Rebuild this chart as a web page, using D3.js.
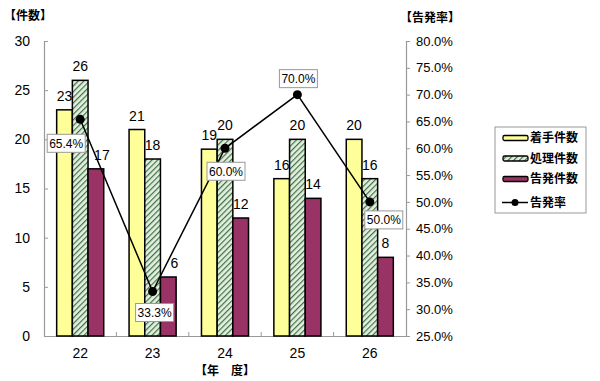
<!DOCTYPE html>
<html>
<head>
<meta charset="utf-8">
<script src="https://cdn.jsdelivr.net/npm/d3@7"></script>
<style>
  body { margin: 0; background: #fff; }
  text { font-family: "Liberation Sans", Arial, sans-serif; }
  .jp { font-family: "Noto Sans CJK JP", sans-serif; font-weight: bold; }
</style>
</head>
<body>
<div id="chart"></div>
<script>
// data
var years = ["22", "23", "24", "25", "26"];
var seriesNames = ["着手件数", "処理件数", "告発件数"];
var started = [23, 21, 19, 16, 20];
var processed = [26, 18, 20, 20, 16];
var filed = [17, 6, 12, 14, 8];
var rate = [0.654, 0.333, 0.60, 0.70, 0.50];
var rateName = "告発率";
var leftTicks = [0, 5, 10, 15, 20, 25, 30];
var rightTicks = [0.25, 0.30, 0.35, 0.40, 0.45, 0.50, 0.55, 0.60, 0.65, 0.70, 0.75, 0.80];

// where each rate label box sits relative to its point
var rateLabelOffset = [[-14, 24], [2, 21], [1, 23], [1, -16], [14, 18]];

var width = 600;
var height = 381;
var plotL = 44, plotR = 406, plotT = 41, plotB = 336;

var svg = d3.select("#chart")
    .append("svg")
    .attr("width", width)
    .attr("height", height);

var defs = svg.append("defs");
var pat = defs.append("pattern")
    .attr("id", "hatch")
    .attr("patternUnits", "userSpaceOnUse")
    .attr("width", 4)
    .attr("height", 4)
    .attr("patternTransform", "rotate(45)");
pat.append("rect").attr("width", 4).attr("height", 4).attr("fill", "#e3efdf");
pat.append("line")
    .attr("x1", 0).attr("y1", 0).attr("x2", 0).attr("y2", 4)
    .attr("stroke", "#3f7145").attr("stroke-width", 2.4);

var fills = ["#ffff99", "url(#hatch)", "#993366"];
var values = [started, processed, filed];

var x = d3.scaleBand().domain(years).range([plotL, plotR])
    .paddingInner(0.35).paddingOuter(0.175);
var xs = d3.scaleBand().domain(seriesNames).range([0, x.bandwidth()]);
var y = d3.scaleLinear().domain([0, 30]).range([plotB, plotT]);
var yr = d3.scaleLinear().domain([0.25, 0.8]).range([plotB, plotT]);

// axes
var leftAxis = svg.append("g")
    .attr("transform", "translate(" + plotL + ",0)")
    .call(d3.axisLeft(y).tickValues(leftTicks).tickSize(-4).tickPadding(14));
var rightAxis = svg.append("g")
    .attr("transform", "translate(" + plotR + ",0)")
    .call(d3.axisRight(yr).tickValues(rightTicks).tickSize(4).tickPadding(6)
        .tickFormat(function (d) { return (d * 100).toFixed(1) + "%"; }));
var bottomAxis = svg.append("g")
    .attr("transform", "translate(0," + plotB + ")")
    .call(d3.axisBottom(x).tickSize(0).tickPadding(12));

[leftAxis, rightAxis, bottomAxis].forEach(function (g) {
    g.select(".domain").attr("stroke", "#999").attr("stroke-width", 1.2);
    g.selectAll(".tick line").attr("stroke", "#999");
    g.selectAll("text")
        .attr("fill", "#000")
        .style("font-family", "'Liberation Sans', Arial, sans-serif")
        .style("font-size", "13px");
});
leftAxis.selectAll("text").style("font-size", "14px");
bottomAxis.selectAll("text").style("font-size", "14px");

// small ticks between categories on the bottom axis
svg.append("g").selectAll("line")
    .data(years.slice(1))
    .enter().append("line")
    .attr("x1", function (d) { return x(d) - x.step() * x.paddingInner() / 2; })
    .attr("x2", function (d) { return x(d) - x.step() * x.paddingInner() / 2; })
    .attr("y1", plotB)
    .attr("y2", plotB - 4)
    .attr("stroke", "#999");

// bars
seriesNames.forEach(function (name, si) {
    var g = svg.append("g");
    g.selectAll("rect")
        .data(years)
        .enter().append("rect")
        .attr("x", function (d) { return x(d) + xs(name); })
        .attr("y", function (d, i) { return y(values[si][i]); })
        .attr("width", xs.bandwidth())
        .attr("height", function (d, i) { return plotB - y(values[si][i]); })
        .attr("fill", fills[si])
        .attr("stroke", "#000")
        .attr("stroke-width", 1.5);
    g.selectAll("text")
        .data(years)
        .enter().append("text")
        .attr("x", function (d, i) {
            var nudge = 0;
            if (si === 2 && (i === 0 || i === 1)) nudge = 6;
            return x(d) + xs(name) + xs.bandwidth() / 2 + nudge;
        })
        .attr("y", function (d, i) { return y(values[si][i]) - 9; })
        .attr("text-anchor", "middle")
        .style("font-size", "14px")
        .attr("fill", "#000")
        .text(function (d, i) { return values[si][i]; });
});

// rate line
var px = function (d, i) { return x(years[i]) + x.bandwidth() / 2; };
svg.append("path")
    .datum(rate)
    .attr("fill", "none")
    .attr("stroke", "#000")
    .attr("stroke-width", 1.5)
    .attr("d", d3.line().x(px).y(function (d) { return yr(d); }));
svg.append("g").selectAll("circle")
    .data(rate)
    .enter().append("circle")
    .attr("cx", px)
    .attr("cy", function (d) { return yr(d); })
    .attr("r", 4.5)
    .attr("fill", "#000");

// rate labels
var lab = svg.append("g").selectAll("g")
    .data(rate)
    .enter().append("g")
    .attr("transform", function (d, i) {
        return "translate(" + (px(d, i) + rateLabelOffset[i][0]) + "," + (yr(d) + rateLabelOffset[i][1]) + ")";
    });
lab.append("rect")
    .attr("x", -19).attr("y", -9)
    .attr("width", 38).attr("height", 18)
    .attr("fill", "#fff")
    .attr("stroke", "#999");
lab.append("text")
    .attr("text-anchor", "middle")
    .attr("dy", "0.36em")
    .style("font-size", "12px")
    .text(function (d) { return (d * 100).toFixed(1) + "%"; });

// axis titles
svg.append("text").attr("class", "jp")
    .attr("x", 4).attr("y", 20)
    .style("font-size", "12px")
    .text("【件数】");
svg.append("text").attr("class", "jp")
    .attr("x", 400).attr("y", 22)
    .style("font-size", "12px")
    .text("【告発率】");
svg.append("text").attr("class", "jp")
    .attr("x", 225).attr("y", 375)
    .attr("text-anchor", "middle")
    .style("font-size", "12px")
    .text("【年　度】");

// legend
var lg = svg.append("g");
lg.append("rect")
    .attr("x", 495).attr("y", 127)
    .attr("width", 91).attr("height", 86)
    .attr("fill", "#fff")
    .attr("stroke", "#999");
seriesNames.forEach(function (name, i) {
    var ly = 138 + i * 20.5;
    lg.append("rect")
        .attr("x", 503).attr("y", ly - 2.5)
        .attr("width", 25).attr("height", 5)
        .attr("rx", 1.5)
        .attr("fill", fills[i])
        .attr("stroke", "#000")
        .attr("stroke-width", 1.3);
    lg.append("text").attr("class", "jp")
        .attr("x", 530).attr("y", ly)
        .attr("dy", "0.36em")
        .style("font-size", "12px")
        .text(name);
});
var rly = 138 + 3 * 21.5;
lg.append("line")
    .attr("x1", 502).attr("x2", 528)
    .attr("y1", rly).attr("y2", rly)
    .attr("stroke", "#000").attr("stroke-width", 1.5);
lg.append("circle")
    .attr("cx", 515).attr("cy", rly).attr("r", 3.5).attr("fill", "#000");
lg.append("text").attr("class", "jp")
    .attr("x", 530).attr("y", rly)
    .attr("dy", "0.36em")
    .style("font-size", "12px")
    .text(rateName);
</script>
</body>
</html>
